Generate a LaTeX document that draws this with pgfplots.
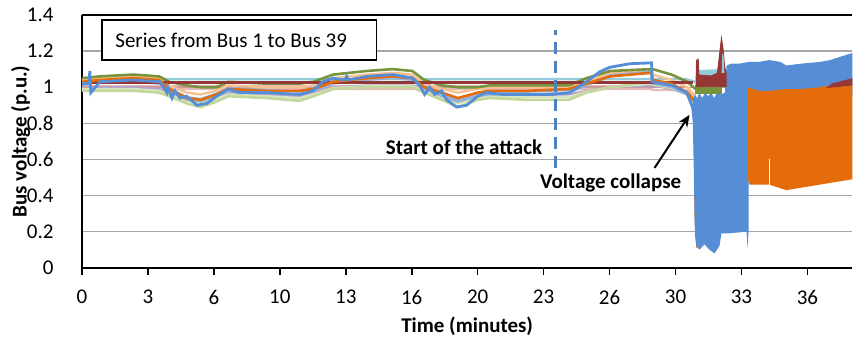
\documentclass[border=0pt]{standalone}
\usepackage{pgfplots}
\pgfplotsset{compat=1.18}
\usepackage{pgfplotstable}
\usepackage{fontspec}
\setmainfont{Carlito}
\usetikzlibrary{arrows.meta}
\definecolor{busblue}{HTML}{558ED5}
\definecolor{dashblue}{HTML}{4F81BD}
\definecolor{busorange}{HTML}{E46C0A}
\definecolor{busred}{HTML}{953735}
\definecolor{busgreen}{HTML}{77933C}
\definecolor{lightgreen}{HTML}{C3D69B}
\definecolor{palegreen}{HTML}{D7E4BD}
\definecolor{peach}{HTML}{FAC090}
\definecolor{teal2}{HTML}{93CDDD}
\definecolor{pink2}{HTML}{E6B9B8}
\definecolor{rose}{HTML}{D99694}
\definecolor{lavender}{HTML}{B3A2C7}
\definecolor{lightblue}{HTML}{95B3D7}
\definecolor{skyblue}{HTML}{8EB4E3}
\definecolor{gridgray}{HTML}{A6A6A6}

\pgfplotstableread{
t G LG O P LB LV S Q
0 1.05 0.98 1.03 1.04 1.02 1.00 1.035 0.99
0.9 1.06 0.98 1.04 1.05 1.03 1.00 1.045 0.99
2.6 1.07 0.98 1.05 1.06 1.03 1.00 1.045 0.99
3.9 1.06 0.97 1.04 1.05 1.02 0.99 1.035 0.98
4.4 1.03 0.95 0.99 1.01 0.98 0.97 0.995 0.96
5.3 1.01 0.91 0.94 0.97 0.93 0.94 0.945 0.925
6.0 1.00 0.89 0.93 0.96 0.92 0.93 0.935 0.91
6.8 1.00 0.92 0.96 0.98 0.95 0.95 0.965 0.935
7.4 1.03 0.95 0.99 1.01 0.98 0.97 0.995 0.96
9.3 1.02 0.94 0.98 1.00 0.97 0.96 0.985 0.95
11.0 1.02 0.925 0.98 1.00 0.96 0.95 0.975 0.94
11.7 1.03 0.95 0.99 1.01 0.98 0.97 0.995 0.96
12.7 1.07 0.99 1.03 1.05 1.02 1.00 1.035 0.995
14.4 1.09 1.00 1.05 1.07 1.04 1.01 1.055 1.005
15.7 1.10 1.00 1.06 1.08 1.05 1.01 1.065 1.005
16.7 1.09 1.00 1.05 1.07 1.04 1.01 1.055 1.005
17.3 1.04 0.97 1.00 1.02 0.99 0.99 1.005 0.98
18.2 1.01 0.93 0.97 0.99 0.95 0.96 0.965 0.945
19.0 1.00 0.89 0.94 0.97 0.92 0.93 0.935 0.91
20.0 1.00 0.93 0.97 0.99 0.95 0.95 0.965 0.94
20.6 1.01 0.94 0.98 1.00 0.96 0.96 0.975 0.95
22.5 1.01 0.93 0.98 1.00 0.96 0.96 0.975 0.945
24.6 1.01 0.93 0.99 1.00 0.97 0.96 0.985 0.945
25.5 1.05 0.97 1.02 1.03 1.01 0.98 1.02 0.975
26.7 1.09 1.00 1.06 1.08 1.06 1.00 1.07 1.00
28.8 1.10 1.03 1.08 1.10 1.09 1.01 1.10 1.02
28.85 1.10 1.02 1.04 1.07 1.02 1.01 1.03 1.015
29.8 1.07 1.00 1.02 1.04 1.00 0.99 1.01 0.995
30.6 1.03 0.97 0.97 1.00 0.96 0.96 0.97 0.965
31.0 0.99 0.93 0.92 0.95 0.90 0.92 0.91 0.925
}\buses

\begin{document}
\fontsize{10.5}{12.6}\selectfont
\begin{tikzpicture}
\begin{axis}[
  name=ax,
  scale only axis,
  width=385.5pt, height=126.5pt,
  xmin=0, xmax=38.94, ymin=0, ymax=1.4,
  axis x line=box, axis y line=left,
  axis line style={-, black, line width=0.9pt},
  xtick pos=left,
  xtick={0,3.3333,6.6667,10,13.3333,16.6667,20,23.3333,26.6667,30,33.3333,36.6667},
  xticklabels={0,3,6,10,13,16,20,23,26,30,33,36},
  ytick={0,0.2,0.4,0.6,0.8,1,1.2,1.4},
  yticklabels={0,0.2,0.4,0.6,0.8,1,1.2,1.4},
  tick align=outside, major tick length=3.5pt,
  x tick style={black, line width=0.8pt},
  y tick style={draw=none},
  yticklabel style={xshift=-7pt},
  xticklabel style={yshift=-4pt},
  /pgf/number format/assume math mode=true,
  ymajorgrids, grid style={gridgray, line width=0.7pt},
  xlabel={\bfseries Time (minutes)},
  ylabel={\bfseries Bus voltage (p.u.)},
  every axis x label/.style={at={(axis description cs:0.5,-0.233)}, anchor=center},
  every axis y label/.style={at={(axis description cs:-0.0795,0.5)}, rotate=90, anchor=center},
  clip=true,
]
\coordinate (BL) at (rel axis cs:0,0);
\coordinate (TR) at (rel axis cs:1,1);
% flat series
\addplot[pink2, line width=1.1pt] coordinates {(0,0.99) (28.8,0.99) (28.85,0.985) (30.6,0.985) (31.0,0.95)};
\addplot[rose, line width=1.0pt] coordinates {(0,1.005) (28.8,1.005) (30.6,1.0) (31.0,0.95)};
\addplot[lavender, line width=1.1pt] table[x=t,y=LV]{\buses};
\addplot[palegreen, line width=1.2pt] table[x=t,y=Q]{\buses};
\addplot[lightgreen, line width=1.3pt] table[x=t,y=LG]{\buses};
\addplot[teal2, line width=1.2pt] coordinates {(0,1.045) (30.5,1.045) (31.0,1.03)};
\addplot[lightblue, line width=1.1pt] table[x=t,y=LB]{\buses};
\addplot[skyblue, line width=1.1pt] table[x=t,y=S]{\buses};
\addplot[peach, line width=1.2pt] table[x=t,y=P]{\buses};
\addplot[busgreen, line width=1.3pt] table[x=t,y=G]{\buses};
\addplot[busred, line width=1.2pt] coordinates {(0,1.025) (30.9,1.025)};
\addplot[busorange, line width=1.3pt] table[x=t,y=O]{\buses};
% main blue bus
\addplot[busblue, line width=1.4pt] coordinates {
(0,1.02) (0.35,1.02) (0.40,1.09) (0.45,0.97) (0.91,1.03) (2.58,1.04) (3.94,1.03)
(4.29,0.97) (4.34,1.00) (4.55,0.94) (4.70,0.98) (4.95,0.94) (5.30,0.95) (5.81,0.90)
(6.31,0.91) (6.82,0.95) (7.37,0.99) (7.98,0.97) (9.34,0.97) (11.01,0.96) (11.67,0.98)
(12.17,1.03) (12.68,1.05) (13.28,1.04) (13.38,1.06) (13.48,1.04) (14.39,1.06) (15.71,1.07)
(16.72,1.05) (17.07,1.01) (17.32,0.96) (17.58,1.00) (17.83,0.96) (18.18,0.98) (18.43,0.93)
(18.94,0.89) (19.44,0.90) (20.00,0.95) (20.45,0.97) (21.26,0.96) (22.47,0.96) (23.79,0.96)
(24.65,0.97) (25.50,1.03) (26.16,1.085) (26.67,1.11) (27.68,1.13) (28.79,1.135) (28.81,1.03)
(29.85,1.01) (30.56,0.97) (30.86,0.89) (30.96,0.80)};
% collapse: orange underneath
\addplot[fill=busorange, draw=none] coordinates {
(30.92,0.90) (31.5,0.93) (32.3,0.93) (33.6,0.93) (33.6,0.30) (31.3,0.25) (31.18,0.12) (31.05,0.11) (30.95,0.30)};
% blue oscillation envelope
\addplot[fill=busblue, draw=none] coordinates {
(30.86,0.89) (30.96,0.96) (31.1,0.94) (31.2,0.97) (31.35,0.94) (31.5,0.97) (31.65,0.95) (31.8,0.97) (31.95,0.94) (32.1,0.97) (32.3,0.96) (32.5,0.97)
(32.58,1.12) (32.8,1.13) (33.2,1.13) (33.7,1.14) (34.2,1.14) (34.75,1.15) (35.3,1.14) (35.6,1.12) (36.3,1.13) (37.3,1.14) (37.8,1.15) (38.94,1.19)
(38.94,0.95) (33.7,0.95) (33.69,0.20) (33.64,0.11) (33.59,0.20) (32.63,0.19) (32.32,0.19) (32.22,0.12) (31.97,0.08) (31.72,0.10) (31.46,0.13) (31.21,0.10) (31.06,0.12) (30.98,0.18) (30.93,0.50)};
% orange after collapse
\addplot[fill=busorange, draw=none] coordinates {
(33.64,1.00) (34.2,0.98) (34.75,0.98) (35.6,0.99) (36.3,0.99) (37.3,1.00) (37.8,1.01) (38.94,1.02)
(38.94,0.49) (37.8,0.47) (37.27,0.46) (35.6,0.43) (34.75,0.46) (33.74,0.46) (33.64,0.50)};
\addplot[white, line width=0.6pt] coordinates {(34.75,0.46) (34.75,0.60)};
\addplot[fill=busred, draw=none] coordinates {(37.6,0.995) (38.94,1.01) (38.94,1.05) (37.9,1.02)};
% green band
\addplot[fill=busgreen, draw=none] coordinates {(31.0,0.96) (32.35,0.96) (32.35,1.01) (31.0,1.01)};
% teal band
\addplot[fill=teal2, draw=none] coordinates {(31.1,1.0) (31.15,1.095) (32.1,1.10) (32.3,1.20) (32.45,1.16) (32.55,1.0)};
% red band
\addplot[fill=busred, draw=none] coordinates {
(31.01,1.00) (31.04,1.15) (31.17,1.16) (31.2,1.07) (31.8,1.065) (32.1,1.08) (32.22,1.20) (32.32,1.29) (32.42,1.22) (32.5,1.12) (32.58,1.08) (32.58,1.00)};
\addplot[fill=teal2, draw=none] coordinates {(32.33,1.08) (32.36,1.19) (32.43,1.17) (32.47,1.08)};
% start of attack
\addplot[dashblue, line width=1.5pt, dash pattern=on 6pt off 3.5pt] coordinates {(23.94,0.553) (23.94,1.317)};
% annotations
\draw[black, line width=0.6pt, fill=white] (axis cs:1.01,1.151) rectangle (axis cs:14.9,1.372);
\node[anchor=west, inner sep=0pt] at (axis cs:1.67,1.262) {Series from Bus 1 to Bus 39};
\node[anchor=east, inner sep=0pt, font=\bfseries] at (axis cs:23.28,0.67) {Start of the attack};
\node[anchor=center, inner sep=0pt, font=\bfseries] at (axis cs:26.72,0.47) {Voltage collapse};
\draw[-{Stealth[length=6pt,width=5pt]}, line width=1pt] (axis cs:28.94,0.553) -- (axis cs:30.71,0.847);
\end{axis}
\pgfresetboundingbox
\path ([shift={(-41pt,-36pt)}]BL) rectangle ([shift={(0.3pt,7.5pt)}]TR);
\end{tikzpicture}
\end{document}
